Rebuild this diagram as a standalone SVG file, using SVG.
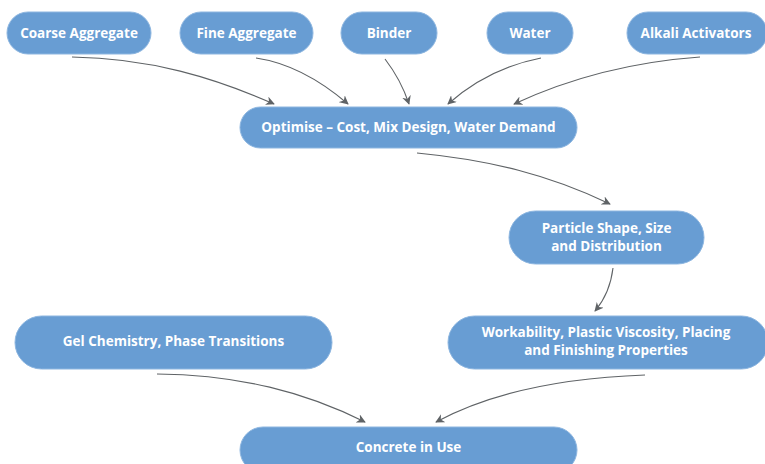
<svg xmlns="http://www.w3.org/2000/svg" width="765" height="464" viewBox="0 0 765 464">
<defs>
<style>
.n{fill:#689dd3;stroke:#8db6e0;stroke-width:1}
.t{font-family:"Open Sans","Noto Sans","Liberation Sans",sans-serif;font-weight:bold;font-size:13.5px;fill:#ffffff;text-anchor:middle}
.e{fill:none;stroke:#5f6366;stroke-width:1.1;marker-end:url(#ah)}
</style>
<marker id="ah" viewBox="0 0 10 10" refX="9" refY="5" markerWidth="9" markerHeight="9" markerUnits="userSpaceOnUse" orient="auto">
<path d="M0,0 L10,5 L0,10 L3,5 z" fill="#5f6366"/>
</marker>
</defs>
<rect width="765" height="464" fill="#ffffff"/>
<g id="connectors">
<path class="e" d="M72,57 C150,58 215,78 274,104"/>
<path class="e" d="M256,58 C290,63 320,80 348,104"/>
<path class="e" d="M385,59 C395,72 403,86 409,104"/>
<path class="e" d="M541,58 C505,65 475,80 448,104"/>
<path class="e" d="M700,57 C630,62 570,78 514,104"/>
<path class="e" d="M417,153 C490,160 550,175 610,204"/>
<path class="e" d="M613,268 C611,285 606,298 595,311"/>
<path class="e" d="M157,374 C240,375 305,392 365,422"/>
<path class="e" d="M645,375 C560,378 490,393 436,422"/>
</g>
<g id="coarse"><rect class="n" x="7" y="12" width="144" height="42" rx="21"/><text class="t" x="79" y="37.5">Coarse Aggregate</text></g>
<g id="fine"><rect class="n" x="180" y="12" width="133" height="42" rx="21"/><text class="t" x="246.5" y="37.5">Fine Aggregate</text></g>
<g id="binder"><rect class="n" x="341" y="12" width="96" height="42" rx="21"/><text class="t" x="389" y="37.5">Binder</text></g>
<g id="water"><rect class="n" x="487" y="12" width="86" height="42" rx="21"/><text class="t" x="530" y="37.5">Water</text></g>
<g id="alkali"><rect class="n" x="627" y="12" width="140" height="42" rx="21"/><text class="t" x="696" y="37.5">Alkali Activators</text></g>
<g id="optimise"><rect class="n" x="240" y="107" width="337" height="41" rx="20.5"/><text class="t" x="408.5" y="131.5">Optimise – Cost, Mix Design, Water Demand</text></g>
<g id="particle"><rect class="n" x="509" y="211" width="195" height="53" rx="26.5"/><text class="t" x="606.5" y="233">Particle Shape, Size</text><text class="t" x="606.5" y="251">and Distribution</text></g>
<g id="workability"><rect class="n" x="448" y="316" width="320" height="53" rx="26.5"/><text class="t" x="606" y="337">Workability, Plastic Viscosity, Placing</text><text class="t" x="606" y="355">and Finishing Properties</text></g>
<g id="gel"><rect class="n" x="15" y="316" width="317" height="53" rx="26.5"/><text class="t" x="173.5" y="346">Gel Chemistry, Phase Transitions</text></g>
<g id="concrete"><rect class="n" x="240" y="427" width="337" height="46" rx="23"/><text class="t" x="408.5" y="451.5">Concrete in Use</text></g>
</svg>
